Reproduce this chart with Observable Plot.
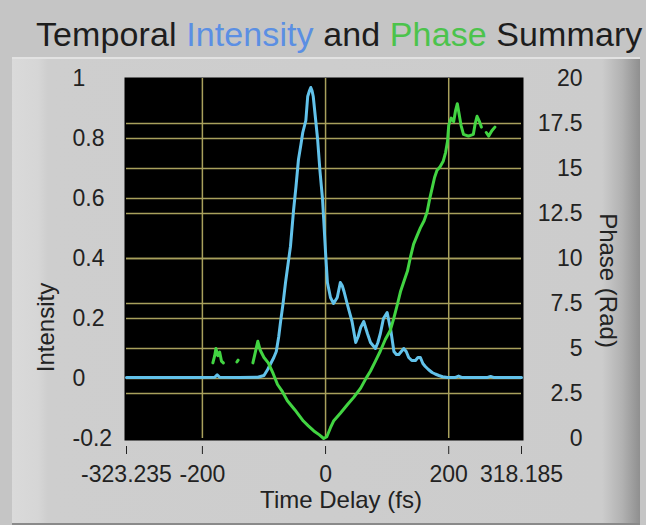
<!DOCTYPE html>
<html>
<head>
<meta charset="utf-8">
<script src="https://cdn.jsdelivr.net/npm/d3@7"></script>
<script src="https://cdn.jsdelivr.net/npm/@observablehq/plot@0.6"></script>
<style>
  html, body { margin: 0; padding: 0; width: 646px; height: 525px; overflow: hidden; background: #c5c5c5; }
  body { font-family: "Liberation Sans", Arial, sans-serif; }
  #wrap { position: relative; width: 646px; height: 525px; overflow: hidden; }
  #panel {
    position: absolute; left: 12px; top: 57px; width: 628px; height: 464px;
    background: linear-gradient(to right, #dadada 0px, #d6d6d6 26px, #cecece 36px, #cccccc 590px, #b2b2b2 610px, #8f8f8f 628px);
    border-top: 2px solid #e2e2e2; border-bottom: 2px solid #8a8a8a;
  }
  #title {
    position: absolute; left: 36px; top: 17px; font-size: 34px; line-height: 34px; letter-spacing: 0.1px;
    white-space: nowrap; color: #1d1d1d;
  }
  #title .int { color: #5b8fe3; }
  #title .pha { color: #4cc34c; }
  #chart { position: absolute; left: 0; top: 57px; }
</style>
</head>
<body>
<div id="wrap">
  <div id="panel"></div>
  <div id="title">Temporal <span class="int">Intensity</span> and <span class="pha">Phase</span> Summary</div>
  <div id="chart"></div>
</div>
<script>
// Axis ticks
const timeTicks = [-323.235, -200, 0, 200, 318.185];
const intensityTicks = [-0.2, 0, 0.2, 0.4, 0.6, 0.8, 1];
const phaseTicks = [0, 2.5, 5, 7.5, 10, 12.5, 15, 17.5, 20];

// Temporal intensity trace (fs, normalised)
const intensityTime = [
  -323.235, -300, -260, -220, -180, -176, -172, -140, -110, -100, -94, -89, -84, -80, -76,
  -73, -69, -65, -61, -57, -52, -48, -44, -40, -37, -32, -29, -26, -24, -22,
  -20, -17, -13, -9, -5, -3, 0, 3, 8, 13, 19, 24, 27, 30, 35,
  43, 49, 53, 57, 62, 68, 73, 81, 85, 89, 94, 100, 106, 111, 115,
  119, 127, 131, 135, 140, 146, 150, 154, 158, 162, 167, 173, 178, 184, 190,
  198, 210, 216, 222, 262, 268, 274, 300, 318.185
];
const intensityValues = [
  0.003, 0.003, 0.003, 0.003, 0.004, 0.012, 0.004, 0.003, 0.004, 0.01, 0.03, 0.05, 0.07, 0.09, 0.14,
  0.19, 0.25, 0.32, 0.38, 0.44, 0.56, 0.64, 0.73, 0.78, 0.82, 0.86, 0.94, 0.96, 0.97, 0.96,
  0.94, 0.88, 0.80, 0.69, 0.60, 0.53, 0.42, 0.32, 0.27, 0.25, 0.27, 0.32, 0.31, 0.29, 0.25,
  0.19, 0.12, 0.14, 0.17, 0.19, 0.15, 0.12, 0.10, 0.12, 0.15, 0.20, 0.22, 0.16, 0.09, 0.08,
  0.08, 0.10, 0.09, 0.07, 0.06, 0.06, 0.07, 0.07, 0.05, 0.04, 0.03, 0.02, 0.015, 0.01, 0.006,
  0.003, 0.003, 0.008, 0.003, 0.003, 0.007, 0.003, 0.003, 0.003
];

// Temporal phase trace (fs, rad); null marks blanked samples
const phaseTime = [
  -183, -180, -178, -175, -172, -169, -166, -155, -144, -142, -130,
  -118, -114, -110, -106, -100, -93, -85, -78, -70, -62, -50, -36, -28, -19, -10,
  -3, 2, 8, 13, 24, 36, 46, 57, 65, 73, 81, 89, 97, 105, 111,
  117, 122, 128, 133, 138, 143, 149, 154, 160, 165, 169, 173, 177, 181, 186,
  191, 195, 198, 200, 204, 208, 211, 214, 217, 220, 224, 232, 240, 243, 246,
  250, 253, 257, 261, 265, 270, 275
];
const phaseValues = [
  4.2, 4.6, 5.0, 4.6, 4.8, 4.3, 4.2, null, 4.25, 4.35, null,
  4.2, 4.8, 5.4, 4.9, 4.5, 4.2, 3.6, 3.0, 2.6, 2.1, 1.6, 0.97, 0.7, 0.42, 0.2,
  0.0, 0.1, 0.6, 0.97, 1.4, 1.9, 2.3, 2.8, 3.3, 3.75, 4.3, 4.86, 5.5, 6.0, 6.7,
  7.5, 8.2, 8.8, 9.3, 10.1, 10.8, 11.3, 11.7, 12.1, 12.6, 13.3, 13.9, 14.5, 14.9, 15.1,
  15.4, 15.9, 16.5, 17.4, 17.8, 17.6, 18.2, 18.6, 18.0, 17.4, 16.9, 16.8, 16.9, 17.5, 17.9,
  17.6, 17.3, null, 17.0, 16.8, 17.1, 17.3
];

// The phase axis (0..20 rad) spans the same height as the intensity axis (-0.2..1)
const toIntensity = (p) => -0.2 + (p / 20) * 1.2;
const toPhase = (v) => ((v + 0.2) / 1.2) * 20;

const intensityData = intensityTime.map((t, i) => ({t, v: intensityValues[i]}));
const phaseData = phaseTime.map((t, i) => ({t, p: phaseValues[i]}));

const gridColor = "#a8a05c";
const textColor = "#222222";

const chart = Plot.plot({
  width: 646,
  height: 468,
  marginTop: 21,
  marginBottom: 87,
  marginLeft: 126,
  marginRight: 125,
  style: {
    fontFamily: "'Liberation Sans', Arial, sans-serif",
    fontSize: "23px",
    color: textColor,
    background: "transparent",
    overflow: "visible"
  },
  x: {domain: [-323.235, 318.185]},
  y: {domain: [-0.2, 1]},
  marks: [
    Plot.frame({fill: "black", stroke: "none", insetLeft: -2, insetRight: -2, insetTop: -1, insetBottom: -2}),
    Plot.ruleY(intensityTicks.filter((v) => v > -0.2 && v < 1), {stroke: gridColor, strokeWidth: 1.5}),
    Plot.ruleY(phaseTicks.filter((p) => p > 0 && p < 20), {y: toIntensity, stroke: gridColor, strokeWidth: 1.5}),
    Plot.ruleX(timeTicks.filter((t) => t > -323.235 && t < 318.185), {stroke: gridColor, strokeWidth: 1.5}),
    Plot.line(intensityData, {x: "t", y: "v", stroke: "#62c2ea", strokeWidth: 3}),
    Plot.line(phaseData, {x: "t", y: (d) => (d.p == null ? NaN : toIntensity(d.p)), stroke: "#42d442", strokeWidth: 3}),
    Plot.axisX(timeTicks, {anchor: "bottom", label: null, tickSize: 8, dy: 8, tickPadding: 11, tickFormat: (d) => String(d)}),
    Plot.axisY(intensityTicks, {anchor: "left", label: null, tickSize: 0, tickPadding: 0, dx: -54, textAnchor: "start", tickFormat: (d) => String(d)}),
    Plot.axisY(phaseTicks.map(toIntensity), {anchor: "right", label: null, tickSize: 0, tickPadding: 0, dx: 61, textAnchor: "end", tickFormat: (v) => String(Math.round(toPhase(v) * 10) / 10)}),
    Plot.text(["Intensity"], {text: (d) => d, frameAnchor: "left", textAnchor: "middle", rotate: -90, dx: -80, dy: 69, fontSize: 24, fill: textColor}),
    Plot.text(["Phase (Rad)"], {text: (d) => d, frameAnchor: "right", textAnchor: "middle", rotate: 90, dx: 86, dy: 22, fontSize: 24, fill: textColor}),
    Plot.text(["Time Delay (fs)"], {text: (d) => d, frameAnchor: "bottom", textAnchor: "middle", dx: 17, dy: 69, fontSize: 24, fill: textColor})
  ]
});
document.getElementById("chart").appendChild(chart);
</script>
</body>
</html>
